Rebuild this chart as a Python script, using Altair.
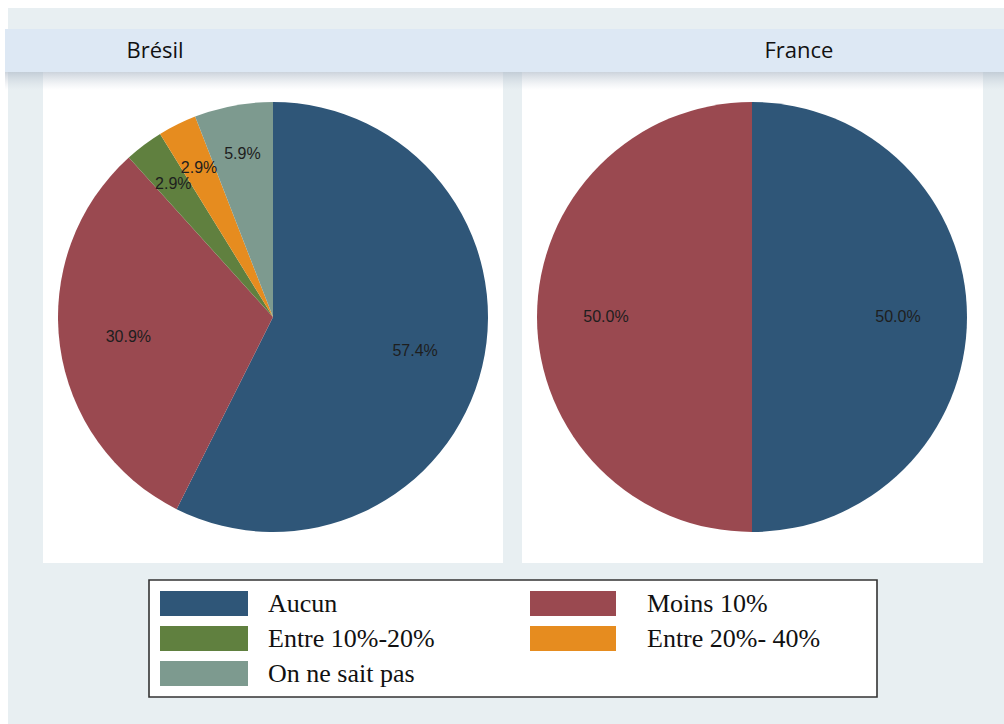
import altair as alt
import pandas as pd

# ---------------- data ----------------
categories = ["Aucun", "Moins 10%", "Entre 10%-20%", "Entre 20%- 40%", "On ne sait pas"]
colors = ["#2f5678", "#9a4950", "#60803f", "#e68c1f", "#7d9a8f"]

countries = ["Brésil", "France"]
bresil_categories = ["Aucun", "Moins 10%", "Entre 10%-20%", "Entre 20%- 40%", "On ne sait pas"]
bresil_values = [57.4, 30.9, 2.9, 2.9, 5.9]
france_categories = ["Aucun", "Moins 10%"]
france_values = [50.0, 50.0]

rows = []
for c, v in zip(bresil_categories, bresil_values):
    rows.append({"country": "Brésil", "cat": c, "idx": categories.index(c), "value": v})
for c, v in zip(france_categories, france_values):
    rows.append({"country": "France", "cat": c, "idx": categories.index(c), "value": v})
pie_df = pd.DataFrame(rows)
legend_df = pd.DataFrame({"cat": categories, "idx": list(range(len(categories)))})
one = pd.DataFrame({"a": [0]})

color_scale = alt.Scale(domain=categories, range=colors)
theta_scale = alt.Scale(domain=[0, 100])


def box(x, x2, y, y2, fill, stroke=None, sw=0):
    kw = {"fill": fill}
    if stroke:
        kw.update(stroke=stroke, strokeWidth=sw)
    return alt.Chart(one).mark_rect(**kw).encode(
        x=alt.value(x), x2=alt.value(x2), y=alt.value(y), y2=alt.value(y2))


layers = []
# page background
layers.append(box(8, 1004, 8, 724, "#e8eff2"))
# panels
layers.append(box(43, 503, 72, 563, "#ffffff"))
layers.append(box(522, 983, 72, 563, "#ffffff"))
# header shadow
shadow = alt.Gradient(
    gradient="linear", x1=0, x2=0, y1=0, y2=1,
    stops=[alt.GradientStop(color="rgba(170,182,196,0.6)", offset=0),
           alt.GradientStop(color="rgba(200,210,220,0)", offset=1)])
layers.append(alt.Chart(one).mark_rect(fill=shadow).encode(
    x=alt.value(5), x2=alt.value(1004), y=alt.value(72), y2=alt.value(90)))
# header band
layers.append(box(5, 1004, 29, 72, "#dde8f4"))


def pie(country, cx, title_x):
    base = alt.Chart(pie_df).transform_filter(alt.datum.country == country)
    arcs = base.mark_arc(outerRadius=215).encode(
        theta=alt.Theta("value:Q", stack=True, scale=theta_scale),
        color=alt.Color("cat:N", scale=color_scale, legend=None),
        order=alt.Order("idx:Q"),
        x=alt.value(cx), y=alt.value(317))
    labels = base.transform_window(
        cum="sum(value)", sort=[alt.SortField("idx")], frame=[None, 0]
    ).transform_calculate(
        mid="datum.cum - datum.value / 2",
        label="format(datum.value, '.1f') + '%'",
        lr="datum.value < 10 ? 166 : 146",
    ).mark_text(font="Liberation Sans", fontSize=16, color="#1e1e1e",
                align="center", baseline="middle").encode(
        theta=alt.Theta("mid:Q", stack=None, scale=theta_scale),
        radius=alt.Radius("lr:Q", scale=None),
        text="label:N",
        x=alt.value(cx), y=alt.value(317))
    title = alt.Chart(pd.DataFrame({"country": [country]})).mark_text(
        font="Open Sans", fontSize=22, color="#111111", align="center",
        baseline="alphabetic").encode(
        text="country:N", x=alt.value(title_x), y=alt.value(58))
    return [arcs, labels, title]


layers += pie(countries[0], 273, 155)
layers += pie(countries[1], 752, 799)

# legend box
layers.append(box(149, 877, 580, 697, "#ffffff", stroke="#333333", sw=1.6))

leg = alt.Chart(legend_df).transform_calculate(
    col="datum.idx % 2", row="floor(datum.idx / 2)"
).transform_calculate(
    sx="160 + datum.col * 370", sx2="248 + datum.col * 368",
    sy="591 + datum.row * 35", sy2="616 + datum.row * 35",
    tx="268 + datum.col * 379", ty="612 + datum.row * 35")
layers.append(leg.mark_rect().encode(
    x=alt.X("sx:Q", scale=None), x2="sx2:Q",
    y=alt.Y("sy:Q", scale=None), y2="sy2:Q",
    color=alt.Color("cat:N", scale=color_scale, legend=None)))
layers.append(leg.mark_text(font="Liberation Serif", fontSize=26, color="#111111",
                            align="left", baseline="alphabetic").encode(
    x=alt.X("tx:Q", scale=None), y=alt.Y("ty:Q", scale=None), text="cat:N"))

chart = alt.layer(*layers).properties(
    width=1004, height=724, padding=0,
    autosize=alt.AutoSizeParams(type="none"),
    background="#ffffff",
).configure_view(stroke=None)

chart.save("out.html", embed_options={"renderer": "svg", "actions": False})
